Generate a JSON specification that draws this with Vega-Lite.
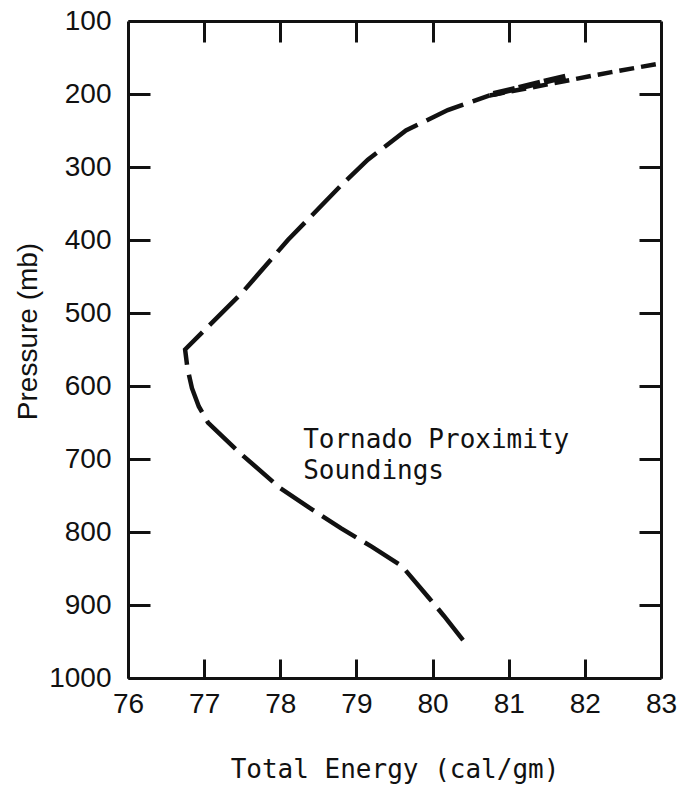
{
  "$schema": "https://vega.github.io/schema/vega-lite/v6.json",
  "autosize": "none",
  "width": 533,
  "height": 657,
  "padding": {"left": 128, "top": 21, "right": 16, "bottom": 109},
  "background": "white",
  "config": {
    "view": {"stroke": null},
    "axis": {
      "domainColor": "#111",
      "domainWidth": 3,
      "tickColor": "#111",
      "tickWidth": 3,
      "grid": false,
      "labelFlush": false,
      "labelFont": "Liberation Sans",
      "labelFontSize": 28,
      "labelColor": "#111",
      "titleFont": "DejaVu Sans Mono",
      "titleFontSize": 26,
      "titleFontWeight": "normal",
      "titleColor": "#111"
    }
  },
  "data": {
    "values": [
      {"s": "main", "i": 1, "e": 80.4, "p": 948},
      {"s": "main", "i": 2, "e": 80.15, "p": 915},
      {"s": "main", "i": 3, "e": 79.95, "p": 890},
      {"s": "main", "i": 4, "e": 79.6, "p": 847},
      {"s": "main", "i": 5, "e": 79.2, "p": 820},
      {"s": "main", "i": 6, "e": 78.8, "p": 795},
      {"s": "main", "i": 7, "e": 78.4, "p": 768},
      {"s": "main", "i": 8, "e": 78.0, "p": 740},
      {"s": "main", "i": 9, "e": 77.45, "p": 690},
      {"s": "main", "i": 10, "e": 77.05, "p": 650},
      {"s": "main", "i": 11, "e": 76.93, "p": 628},
      {"s": "main", "i": 12, "e": 76.84, "p": 603},
      {"s": "main", "i": 13, "e": 76.78, "p": 575},
      {"s": "main", "i": 14, "e": 76.75, "p": 550},
      {"s": "main", "i": 15, "e": 77.5, "p": 472},
      {"s": "main", "i": 16, "e": 78.1, "p": 400},
      {"s": "main", "i": 17, "e": 78.8, "p": 325},
      {"s": "main", "i": 18, "e": 79.15, "p": 290},
      {"s": "main", "i": 19, "e": 79.65, "p": 250},
      {"s": "main", "i": 20, "e": 80.2, "p": 222},
      {"s": "main", "i": 21, "e": 80.75, "p": 202},
      {"s": "upper", "i": 1, "e": 80.75, "p": 202},
      {"s": "upper", "i": 2, "e": 81.8, "p": 181},
      {"s": "upper", "i": 3, "e": 82.35, "p": 170},
      {"s": "upper", "i": 4, "e": 83.0, "p": 158},
      {"s": "branch", "i": 1, "e": 80.8, "p": 200},
      {"s": "branch", "i": 2, "e": 81.75, "p": 176}
    ]
  },
  "layer": [
    {
      "transform": [{"filter": "datum.s == 'main'"}],
      "mark": {"type": "line", "color": "#111", "strokeWidth": 4.5, "strokeDash": [40, 10], "strokeCap": "butt"},
      "encoding": {
        "x": {"field": "e", "type": "quantitative", "scale": {"domain": [76, 83], "nice": false, "zero": false},
          "axis": {"orient": "bottom", "values": [76, 77, 78, 79, 80, 81, 82, 83], "format": "d", "tickSize": -19, "labelPadding": 31,
            "title": "Total Energy (cal/gm)", "titleBaseline": "alphabetic", "titleY": 99}},
        "y": {"field": "p", "type": "quantitative", "scale": {"domain": [100, 1000], "reverse": true, "nice": false, "zero": false},
          "axis": {"orient": "left", "values": [100, 200, 300, 400, 500, 600, 700, 800, 900, 1000], "format": "d", "tickSize": -22, "labelPadding": 39,
            "title": "Pressure (mb)", "titleFont": "Liberation Sans", "titleFontSize": 28, "titleBaseline": "alphabetic", "titleX": -92, "titleY": 310}},
        "order": {"field": "i", "type": "quantitative"}
      }
    },
    {
      "transform": [{"filter": "datum.s == 'upper'"}],
      "mark": {"type": "line", "color": "#111", "strokeWidth": 4.5, "strokeDash": [15, 7], "strokeCap": "butt"},
      "encoding": {
        "x": {"field": "e", "type": "quantitative",
          "axis": {"orient": "top", "values": [77, 78, 79, 80, 81, 82], "tickSize": -21, "labels": false, "title": null}},
        "y": {"field": "p", "type": "quantitative",
          "axis": {"orient": "right", "values": [200, 300, 400, 500, 600, 700, 800, 900], "tickSize": -22, "labels": false, "title": null}},
        "order": {"field": "i", "type": "quantitative"}
      }
    },
    {
      "transform": [{"filter": "datum.s == 'branch'"}],
      "mark": {"type": "line", "color": "#111", "strokeWidth": 6, "strokeDash": [22, 4], "strokeCap": "butt"},
      "encoding": {
        "x": {"field": "e", "type": "quantitative", "axis": null},
        "y": {"field": "p", "type": "quantitative", "axis": null},
        "order": {"field": "i", "type": "quantitative"}
      }
    },
    {
      "data": {"values": [{"e": 78.3, "p": 685, "t": "Tornado Proximity\nSoundings"}]},
      "mark": {"type": "text", "align": "left", "baseline": "alphabetic", "font": "DejaVu Sans Mono", "fontSize": 26, "lineBreak": "\n", "lineHeight": 31, "color": "#111"},
      "encoding": {
        "x": {"field": "e", "type": "quantitative", "axis": null},
        "y": {"field": "p", "type": "quantitative", "axis": null},
        "text": {"field": "t"}
      }
    }
  ],
  "resolve": {"axis": {"x": "independent", "y": "independent"}}
}
